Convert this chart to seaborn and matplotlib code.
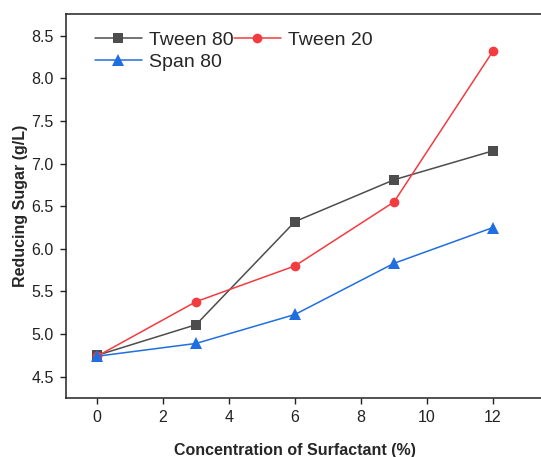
import matplotlib
matplotlib.use("Agg")
import matplotlib.pyplot as plt
import seaborn as sns
import pandas as pd

conc = [0, 3, 6, 9, 12]
tween80 = [4.75, 5.11, 6.32, 6.81, 7.15]
tween20 = [4.74, 5.38, 5.80, 6.55, 8.32]
span80 = [4.74, 4.89, 5.23, 5.83, 6.25]
series_names = ["Tween 80", "Tween 20", "Span 80"]

df = pd.DataFrame({
    "Concentration": conc * 3,
    "Sugar": tween80 + tween20 + span80,
    "Surfactant": [series_names[0]] * 5 + [series_names[1]] * 5 + [series_names[2]] * 5,
})

sns.set_theme(style="ticks")
plt.rcParams['font.family'] = ['Liberation Sans', 'DejaVu Sans']

W, H = 541, 457
fig = plt.figure(figsize=(W / 100, H / 100), dpi=100)
ax = fig.add_axes([66 / W, 1 - 398 / H, (559 - 66) / W, (398 - 14) / H])

palette = {"Tween 80": "#4d4d4d", "Tween 20": "#f23c3f", "Span 80": "#1f6fe0"}
markers = {"Tween 80": "s", "Tween 20": "o", "Span 80": "^"}
sns.lineplot(data=df, x="Concentration", y="Sugar", hue="Surfactant", style="Surfactant",
             palette=palette, markers=markers, dashes=False, markersize=6.5,
             markeredgewidth=0, linewidth=1.1, ax=ax, legend=True)

msize = {"s": 7.0, "o": 7.0, "^": 8.4}
for ln in ax.lines:
    m = ln.get_marker()
    if m in msize:
        ln.set_markersize(msize[m])

ax.set_xlim(-0.94, 14)
ax.set_ylim(4.25, 8.755)
ax.set_xticks([0, 2, 4, 6, 8, 10, 12])
ax.set_yticks([4.5, 5.0, 5.5, 6.0, 6.5, 7.0, 7.5, 8.0, 8.5])
ax.set_yticklabels([f"{v:.1f}" for v in [4.5, 5.0, 5.5, 6.0, 6.5, 7.0, 7.5, 8.0, 8.5]])
ax.tick_params(axis="both", direction="out", length=4, width=1, labelsize=11.5,
               colors="#222222", labelcolor="#222222", pad=5)
for s in ax.spines.values():
    s.set_linewidth(1.1)
    s.set_color("#222222")

ax.set_xlabel("Concentration of Surfactant (%)", fontsize=11.5, fontweight="bold")
ax.set_ylabel("Reducing Sugar (g/L)", fontsize=11.5, fontweight="bold", labelpad=2)
ax.xaxis.set_label_coords((295 - 66) / (559 - 66), -0.118)

handles, labels = ax.get_legend_handles_labels()
order = [labels.index("Tween 80"), labels.index("Span 80"), labels.index("Tween 20")]
leg = ax.legend([handles[i] for i in order], [labels[i] for i in order], ncol=2, frameon=False,
                loc="upper left", bbox_to_anchor=(0.035, 0.985), fontsize=14, handlelength=2.4,
                handletextpad=0.4, columnspacing=0.0, labelspacing=0.22, borderaxespad=0.2)
for h in leg.legend_handles:
    m = h.get_marker()
    if m in msize:
        h.set_markersize(msize[m])

fig.savefig("out.png", dpi=100)
